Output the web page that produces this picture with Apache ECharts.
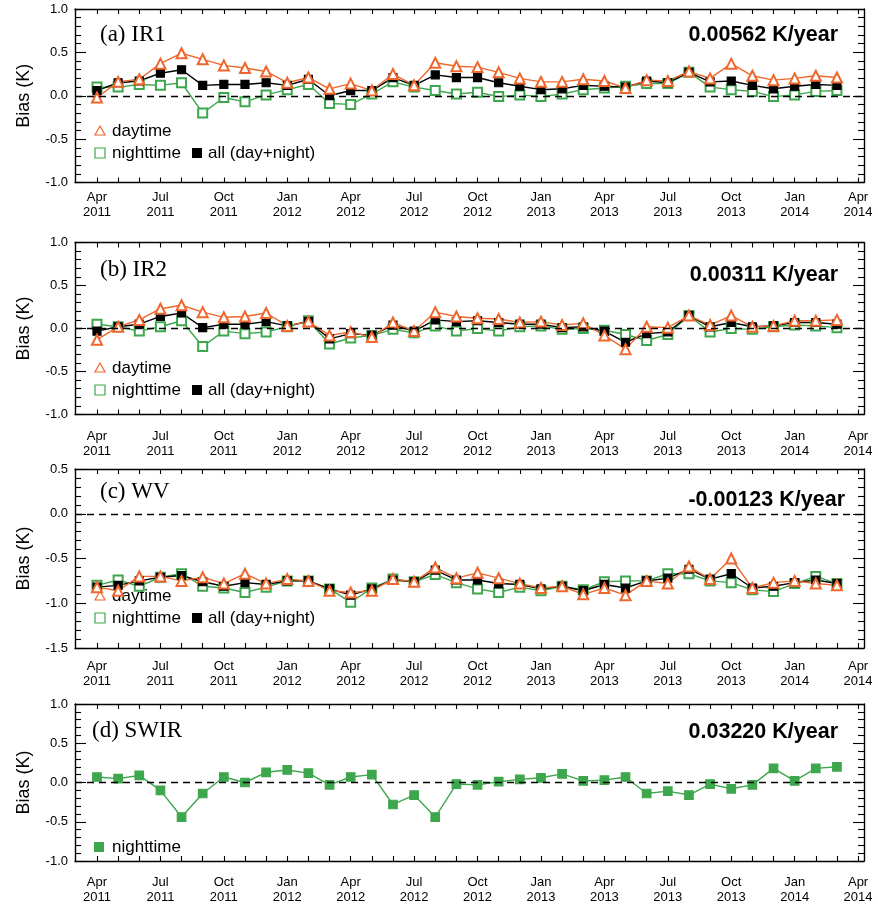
<!DOCTYPE html>
<html><head><meta charset="utf-8">
<script src="https://cdn.jsdelivr.net/npm/echarts@6/dist/echarts.min.js"></script>
<style>html,body{margin:0;padding:0;background:#fff}#c{width:878px;height:905px}</style>
</head><body><div id="c"></div>
<script>
// ---- data ----
const months = ['2011-04','2011-05','2011-06','2011-07','2011-08','2011-09','2011-10','2011-11','2011-12',
  '2012-01','2012-02','2012-03','2012-04','2012-05','2012-06','2012-07','2012-08','2012-09','2012-10','2012-11','2012-12',
  '2013-01','2013-02','2013-03','2013-04','2013-05','2013-06','2013-07','2013-08','2013-09','2013-10','2013-11','2013-12',
  '2014-01','2014-02','2014-03'];
const xTickLabels = ['Apr\n2011','Jul\n2011','Oct\n2011','Jan\n2012','Apr\n2012','Jul\n2012','Oct\n2012',
  'Jan\n2013','Apr\n2013','Jul\n2013','Oct\n2013','Jan\n2014','Apr\n2014'];

const ir1Day   = [-0.02,0.16,0.19,0.37,0.49,0.42,0.35,0.32,0.28,0.15,0.21,0.08,0.14,0.06,0.25,0.12,0.38,0.34,0.33,0.27,0.20,0.16,0.16,0.19,0.17,0.09,0.18,0.17,0.28,0.20,0.37,0.23,0.18,0.20,0.23,0.21];
const ir1Night = [0.10,0.10,0.13,0.12,0.15,-0.20,-0.02,-0.07,0.01,0.07,0.13,-0.09,-0.10,0.02,0.16,0.10,0.06,0.02,0.04,-0.01,0.01,-0.01,0.02,0.07,0.09,0.11,0.14,0.14,0.27,0.10,0.07,0.05,-0.01,0.01,0.05,0.06];
const ir1All   = [0.06,0.15,0.17,0.26,0.30,0.12,0.13,0.13,0.15,0.12,0.19,0.00,0.06,0.06,0.21,0.12,0.24,0.21,0.21,0.15,0.11,0.07,0.08,0.12,0.11,0.10,0.17,0.15,0.27,0.16,0.17,0.12,0.08,0.11,0.13,0.12];

const ir2Day   = [-0.13,0.02,0.10,0.23,0.27,0.19,0.13,0.14,0.18,0.03,0.08,-0.08,-0.04,-0.10,0.07,-0.03,0.19,0.14,0.12,0.11,0.07,0.08,0.04,0.06,-0.08,-0.24,0.02,0.01,0.15,0.04,0.15,0.02,0.03,0.09,0.09,0.10];
const ir2Night = [0.05,0.02,-0.03,0.02,0.09,-0.21,-0.03,-0.06,-0.04,0.02,0.09,-0.18,-0.11,-0.08,-0.01,-0.05,0.03,-0.03,0.00,-0.03,0.02,0.03,-0.01,0.00,-0.02,-0.07,-0.14,-0.07,0.15,-0.04,0.00,-0.01,0.02,0.04,0.03,0.01];
const ir2All   = [-0.03,0.02,0.05,0.14,0.18,0.01,0.05,0.05,0.08,0.03,0.08,-0.12,-0.06,-0.08,0.04,-0.03,0.10,0.08,0.09,0.07,0.05,0.05,0.01,0.02,-0.03,-0.16,-0.06,-0.04,0.15,0.02,0.07,0.02,0.03,0.07,0.07,0.05];

const wvDay   = [-0.82,-0.86,-0.70,-0.70,-0.75,-0.71,-0.78,-0.67,-0.78,-0.73,-0.75,-0.86,-0.88,-0.86,-0.73,-0.76,-0.60,-0.72,-0.66,-0.72,-0.78,-0.83,-0.81,-0.90,-0.83,-0.91,-0.75,-0.78,-0.59,-0.73,-0.50,-0.83,-0.77,-0.75,-0.78,-0.80];
const wvNight = [-0.80,-0.74,-0.81,-0.71,-0.67,-0.81,-0.83,-0.88,-0.82,-0.75,-0.75,-0.84,-0.99,-0.83,-0.73,-0.76,-0.68,-0.77,-0.84,-0.88,-0.82,-0.86,-0.81,-0.85,-0.76,-0.75,-0.75,-0.67,-0.67,-0.75,-0.77,-0.85,-0.87,-0.78,-0.70,-0.78];
const wvAll   = [-0.82,-0.80,-0.75,-0.71,-0.69,-0.76,-0.81,-0.77,-0.79,-0.75,-0.75,-0.84,-0.91,-0.84,-0.74,-0.76,-0.63,-0.74,-0.74,-0.78,-0.79,-0.84,-0.81,-0.86,-0.79,-0.83,-0.75,-0.72,-0.62,-0.73,-0.67,-0.83,-0.81,-0.77,-0.74,-0.78];

const swirNight = [0.07,0.05,0.09,-0.10,-0.44,-0.14,0.07,0.00,0.13,0.16,0.12,-0.03,0.07,0.10,-0.28,-0.16,-0.44,-0.02,-0.03,0.01,0.04,0.06,0.11,0.02,0.03,0.07,-0.14,-0.11,-0.16,-0.02,-0.08,-0.03,0.18,0.02,0.18,0.20];

const panelTitles = ['(a) IR1','(b) IR2','(c) WV','(d) SWIR'];
const trendTexts  = ['0.00562 K/year','0.00311 K/year','-0.00123 K/year','0.03220 K/year'];
const yRanges = [[-1,1],[-1,1],[-1.5,0.5],[-1,1]];

// ---- layout / style ----
const ORANGE = '#ef672c', GREEN = '#3ea64d', BLACK = '#000';
const FONT = '"Liberation Sans", Arial, Helvetica, sans-serif';
const gridLeft = 75, gridWidth = 789;
const gridTops = [9, 242.5, 469, 704];
const gridHeights = [173.5, 172, 179, 158];
const xLabelMargins = [7, 14, 11, 14];
const titleY = [35, 270, 492, 731];
const trendY = [35, 275, 500, 732];
const legendRows = [[131,153],[368,390],[596,618],[847]];

const monthTicks = months.map((m,i)=>i).concat([months.length]);
const labelVals = xTickLabels.map((l,k)=>3*k);

const grids = [], xAxes = [], yAxes = [], series = [], graphics = [];
const axisLine = {show:true, onZero:false, lineStyle:{color:BLACK, width:1.4}};

for (let p = 0; p < 4; p++) {
  grids.push({left:gridLeft, width:gridWidth, top:gridTops[p], height:gridHeights[p]});
  const xBase = {type:'value', gridIndex:p, min:-1.04, max:36.28, axisLine,
    splitLine:{show:false},
    axisTick:{show:true, inside:true, length:5, customValues:monthTicks, lineStyle:{color:BLACK,width:1.1}}};
  xAxes.push(Object.assign({}, xBase, {position:'bottom',
    axisLabel:{show:true, customValues:labelVals, formatter:v=>xTickLabels[Math.round(v/3)],
      color:BLACK, fontSize:13, lineHeight:15, margin:xLabelMargins[p], fontFamily:FONT}}));
  xAxes.push(Object.assign({}, xBase, {position:'top', axisLabel:{show:false}}));
  const yBase = {type:'value', gridIndex:p, min:yRanges[p][0], max:yRanges[p][1], interval:0.5,
    axisLine, splitLine:{show:false},
    axisTick:{show:true, inside:true, length:11, lineStyle:{color:BLACK,width:1.1}},
    minorTick:{show:true, splitNumber:5, length:6, lineStyle:{color:BLACK,width:1.1}}};
  yAxes.push(Object.assign({}, yBase, {position:'left',
    axisLabel:{show:true, formatter:v=>v.toFixed(1), color:BLACK, fontSize:13, margin:7, fontFamily:FONT,
      showMinLabel:true, showMaxLabel:true},
    name:'Bias (K)', nameLocation:'middle', nameGap:42, nameRotate:90,
    nameTextStyle:{fontSize:18, color:BLACK, fontFamily:FONT}}));
  yAxes.push(Object.assign({}, yBase, {position:'right', axisLabel:{show:false}}));
}

const zeroLine = {silent:true, symbol:['none','none'], label:{show:false},
  lineStyle:{color:BLACK, type:[7,5], width:1.4}, data:[{yAxis:0}], animation:false};

function lineSeries(p, name, vals, symbol, size, color, withZero) {
  const s = {type:'line', name, xAxisIndex:2*p, yAxisIndex:2*p,
    data: vals.map((v,i)=>[i,v]), symbol, symbolSize:size, showAllSymbol:true,
    lineStyle:{color, width:1.4}, itemStyle:{color, borderColor:color, borderWidth:1.2},
    emphasis:{disabled:true}, animation:false, z:3};
  if (withZero) s.markLine = zeroLine;
  return s;
}
const panelData = [[ir1Day, ir1Night, ir1All],[ir2Day, ir2Night, ir2All],[wvDay, wvNight, wvAll]];
for (let p = 0; p < 3; p++) {
  const [d, n, a] = panelData[p];
  series.push(lineSeries(p, 'nighttime', n, 'emptyRect', 9, GREEN, true));
  series.push(lineSeries(p, 'all (day+night)', a, 'rect', 8, BLACK, false));
  series.push(lineSeries(p, 'daytime', d, 'emptyTriangle', 10, ORANGE, false));
}
series.push(lineSeries(3, 'nighttime', swirNight, 'rect', 8.5, GREEN, true));

// ---- text / legend graphics ----
for (let p = 0; p < 4; p++) {
  graphics.push({type:'text', x:100 - (p===3?8:0), y:titleY[p],
    style:{text:panelTitles[p], font:'23px "Liberation Serif", "Times New Roman", serif', fill:BLACK, align:'left', verticalAlign:'middle'}});
  graphics.push({type:'text', x: p===2 ? 845 : 838, y:trendY[p],
    style:{text:trendTexts[p], font:'bold 21.5px ' + FONT, fill:BLACK, align:'right', verticalAlign:'middle'}});
}
const legFont = '17px ' + FONT;
for (let p = 0; p < 3; p++) {
  const [r1, r2] = legendRows[p];
  graphics.push({type:'polygon', shape:{points:[[100,r1-5],[95,r1+4],[105,r1+4]]},
    style:{fill:'none', stroke:ORANGE, lineWidth:1.2}});
  graphics.push({type:'text', x:112, y:r1, style:{text:'daytime', font:legFont, fill:BLACK, verticalAlign:'middle'}});
  graphics.push({type:'rect', shape:{x:95, y:r2-5, width:10, height:10},
    style:{fill:'none', stroke:GREEN, lineWidth:1.2}});
  graphics.push({type:'text', x:112, y:r2, style:{text:'nighttime', font:legFont, fill:BLACK, verticalAlign:'middle'}});
  graphics.push({type:'rect', shape:{x:192, y:r2-5, width:10, height:10}, style:{fill:BLACK}});
  graphics.push({type:'text', x:208, y:r2, style:{text:'all (day+night)', font:legFont, fill:BLACK, verticalAlign:'middle'}});
}
graphics.push({type:'rect', shape:{x:94, y:legendRows[3][0]-5, width:10, height:10}, style:{fill:GREEN}});
graphics.push({type:'text', x:112, y:legendRows[3][0], style:{text:'nighttime', font:legFont, fill:BLACK, verticalAlign:'middle'}});

const chart = echarts.init(document.getElementById('c'), null, {renderer:'canvas'});
chart.setOption({
  backgroundColor:'#fff', animation:false,
  grid:grids, xAxis:xAxes, yAxis:yAxes, series, graphic:graphics
});
</script></body></html>
